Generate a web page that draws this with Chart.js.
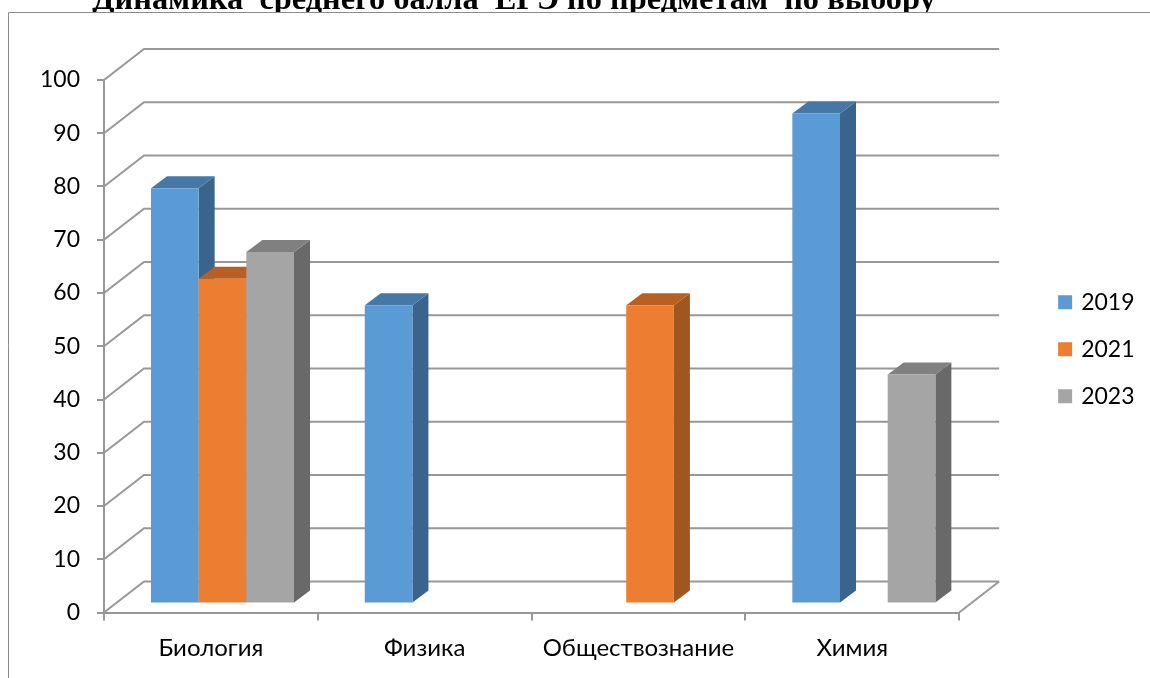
<!DOCTYPE html>
<html lang="ru">
<head>
    <meta charset="UTF-8">
    <title>Динамика среднего балла ЕГЭ по предметам по выбору</title>
    <script src="https://cdn.jsdelivr.net/npm/chart.js"></script>
    <style>
        html, body { margin: 0; padding: 0; background: #fff; overflow: hidden; }
    </style>
</head>
<body>
    <canvas id="myChart" width="1150" height="678"></canvas>
    <script>
        const titleText = 'Динамика  среднего балла  ЕГЭ по предметам  по выбору';
        const categories = ['Биология', 'Физика', 'Обществознание', 'Химия'];
        const years = ['2019', '2021', '2023'];
        const values2019 = [78, 56, null, 92];
        const values2021 = [61, null, 56, null];
        const values2023 = [66, null, null, 43];

        // цвета граней: перед, верх, бок
        const faces = [
            { front: '#5B9BD5', top: '#4678A6', side: '#39648E' },
            { front: '#ED7D31', top: '#B86024', side: '#A0561F' },
            { front: '#A5A5A5', top: '#808080', side: '#696969' }
        ];
        const gridColor = '#989898';
        const uiFont = 'Lato, "Open Sans", sans-serif';

        // смещения псевдо-3D
        const wallDx = 40, wallDy = -31;
        const barDx = 11.6, barDy = -9;
        const depthDx = 16, depthDy = -12;

        function line(ctx, pts) {
            ctx.beginPath();
            pts.forEach((p, i) => i ? ctx.lineTo(p[0], p[1]) : ctx.moveTo(p[0], p[1]));
            ctx.stroke();
        }

        function poly(ctx, pts, color) {
            ctx.fillStyle = color;
            ctx.beginPath();
            pts.forEach((p, i) => i ? ctx.lineTo(p[0], p[1]) : ctx.moveTo(p[0], p[1]));
            ctx.closePath();
            ctx.fill();
        }

        const fake3d = {
            id: 'fake3d',
            // легенду чуть ниже центра области построения
            afterLayout(chart) {
                chart.legend.top += 3;
                chart.legend.bottom += 3;
            },
            // стандартную отрисовку столбцов отключаем, рисуем их сами по порядку
            beforeDatasetDraw() { return false; },
            beforeDatasetsDraw(chart) {
                const ctx = chart.ctx, y = chart.scales.y, a = chart.chartArea;
                ctx.save();
                ctx.strokeStyle = gridColor;
                ctx.lineWidth = 2;
                y.ticks.forEach(t => {
                    const py = y.getPixelForValue(t.value);
                    line(ctx, [[a.left, py], [a.left + wallDx, py + wallDy], [a.right + wallDx, py + wallDy]]);
                });
                line(ctx, [[a.right, a.bottom], [a.right + wallDx, a.bottom + wallDy]]);
                ctx.restore();
            },
            afterDatasetsDraw(chart) {
                const ctx = chart.ctx;
                chart.data.datasets.forEach((ds, i) => {
                    const meta = chart.getDatasetMeta(i);
                    ctx.save();
                    ctx.translate(barDx, barDy);
                    meta.data.forEach((el, j) => {
                        if (ds.data[j] === null) return;
                        const l = el.x - el.width / 2, r = el.x + el.width / 2;
                        poly(ctx, [[r, el.y], [r + depthDx, el.y + depthDy], [r + depthDx, el.base + depthDy], [r, el.base]], faces[i].side);
                        poly(ctx, [[l, el.y], [l + depthDx, el.y + depthDy], [r + depthDx, el.y + depthDy], [r, el.y]], faces[i].top);
                    });
                    meta.controller.draw();
                    ctx.restore();
                });
            },
            afterDraw(chart) {
                const ctx = chart.ctx;
                ctx.save();
                // заголовок обрезан рамкой диаграммы, как на исходном снимке
                ctx.save();
                ctx.beginPath();
                ctx.rect(0, 0, 1150, 12);
                ctx.clip();
                ctx.fillStyle = '#000';
                ctx.font = 'bold 32.4px "Liberation Serif", serif';
                ctx.textAlign = 'center';
                ctx.textBaseline = 'alphabetic';
                ctx.fillText(titleText, 514, 9);
                ctx.restore();
                // рамка области диаграммы
                ctx.strokeStyle = '#8c8c8c';
                ctx.lineWidth = 1;
                line(ctx, [[8.5, 678], [8.5, 12.5], [1150, 12.5]]);
                ctx.restore();
            }
        };

        const myChart = new Chart(document.getElementById('myChart').getContext('2d'), {
            type: 'bar',
            data: {
                labels: categories,
                datasets: [
                    { label: years[0], data: values2019, backgroundColor: faces[0].front },
                    { label: years[1], data: values2021, backgroundColor: faces[1].front },
                    { label: years[2], data: values2023, backgroundColor: faces[2].front }
                ]
            },
            options: {
                responsive: false,
                animation: false,
                categoryPercentage: 0.669,
                barPercentage: 1,
                layout: { padding: { top: 80, right: 5.5, left: 0, bottom: 0 } },
                plugins: {
                    title: { display: false },
                    tooltip: { enabled: false },
                    legend: {
                        position: 'right',
                        fullSize: false,
                        labels: {
                            color: '#000',
                            font: { family: uiFont, size: 23 },
                            boxWidth: 9,
                            boxHeight: 9,
                            padding: 24,
                            // толстая обводка того же цвета: квадрат остаётся 14px, а текст ближе к нему
                            generateLabels(chart) {
                                return Chart.defaults.plugins.legend.labels.generateLabels(chart).map(item => {
                                    item.lineWidth = 5;
                                    item.strokeStyle = item.fillStyle;
                                    return item;
                                });
                            }
                        }
                    }
                },
                scales: {
                    x: {
                        afterFit(s) { s.height = 65.5; },
                        grid: { offset: true, drawOnChartArea: false, color: gridColor, lineWidth: 2, tickLength: 8 },
                        border: { color: gridColor, width: 2 },
                        ticks: { color: '#000', font: { family: uiFont, size: 24 }, padding: 13, maxRotation: 0 }
                    },
                    y: {
                        min: 0,
                        max: 100,
                        afterFit(s) { s.width = 104; },
                        grid: { drawOnChartArea: false, color: gridColor, lineWidth: 2, tickLength: 7 },
                        border: { color: gridColor, width: 2 },
                        ticks: { color: '#000', stepSize: 10, font: { family: uiFont, size: 23 }, padding: 17 }
                    },
                    // пустая ось: только отодвигает легенду от области построения
                    gap: {
                        position: 'right',
                        afterFit(s) { s.width = 77.5; },
                        grid: { display: false },
                        border: { display: false },
                        ticks: { display: false }
                    }
                }
            },
            plugins: [fake3d]
        });
    </script>
</body>
</html>
